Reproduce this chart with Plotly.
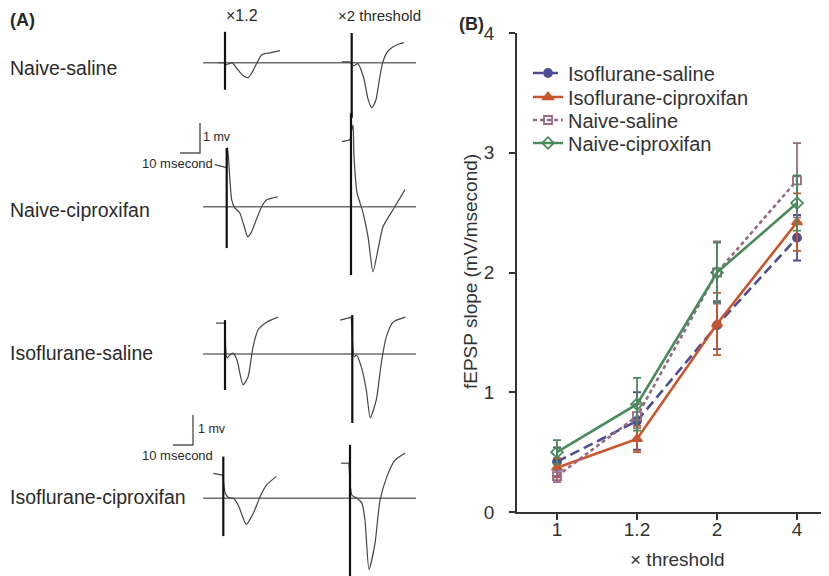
import plotly.graph_objects as go

# ---------------- Panel B data ----------------
thresholds = ["1", "1.2", "2", "4"]
iso_saline = [0.42, 0.76, 1.56, 2.29]
iso_saline_err = [0.12, 0.24, 0.20, 0.19]
iso_cipro = [0.37, 0.61, 1.57, 2.42]
iso_cipro_err = [0.08, 0.11, 0.26, 0.24]
naive_saline = [0.30, 0.80, 2.00, 2.77]
naive_saline_err = [0.05, 0.10, 0.26, 0.31]
naive_cipro = [0.50, 0.90, 2.00, 2.58]
naive_cipro_err = [0.10, 0.22, 0.25, 0.23]

# ---------------- Panel A data (ms from stimulus, mV from baseline) ----------------
# first two points of each trace = pre-stimulus stub
row_labels = ["Naive-saline", "Naive-ciproxifan", "Isoflurane-saline", "Isoflurane-ciproxifan"]
col_labels = ["×1.2", "×2 threshold"]

ns_x12_ms = [-3.5, 0, 0.5, 2, 3.5, 6, 9, 11.5, 13.5, 16, 18.5, 22.5, 27.5]
ns_x12_mv = [0, 0, -0.07, -0.03, 0, -0.2, -0.43, -0.5, -0.33, 0, 0.27, 0.33, 0.4]
ns_x2_ms = [-5, -1, 1, 3, 6, 8, 10, 12, 14, 15.5, 17.5, 20, 24, 26]
ns_x2_mv = [0.03, 0.03, -0.1, -0.03, -0.5, -1.17, -1.5, -1.27, -0.5, 0, 0.33, 0.5, 0.63, 0.67]

nc_x12_ms = [-6, 0, 0.5, 1.5, 2.5, 4, 6.5, 8.5, 10.5, 12.5, 14, 17.5, 20, 25.5]
nc_x12_mv = [1.4, 1.3, 1.97, 1.0, 0.23, -0.03, -0.2, -0.6, -1.0, -0.83, -0.57, 0, 0.23, 0.33]
nc_x2_ms = [-4.5, -0.5, 1, 1.5, 3, 4.5, 6, 8.5, 11, 13.5, 16, 21, 27]
nc_x2_mv = [2.17, 2.23, 2.73, 1.67, 0.47, 0.13, -0.2, -1.0, -2.17, -1.43, -0.67, -0.1, 0.57]

is_x12_ms = [-4.5, 0, 1, 2.5, 4, 6, 9, 11.5, 14, 16.5, 21, 26.5]
is_x12_mv = [1.03, 1.03, -0.13, -0.03, 0.03, -0.2, -1.03, -0.77, 0.23, 0.8, 1.07, 1.23]
is_x2_ms = [-6, -0.5, 1, 2, 4.5, 7, 9, 12, 14.5, 17, 20.5, 26.5]
is_x2_mv = [1.13, 1.23, -0.1, -0.03, -0.43, -1.2, -2.13, -1.53, -0.3, 0.57, 1.07, 1.23]

ic_x12_ms = [-5, -0.25, 1, 2.5, 5, 7.5, 11.5, 15, 18.5, 21.5, 26.5]
ic_x12_mv = [0.83, 0.77, 0.17, 0.03, 0, -0.23, -0.87, -0.5, 0.07, 0.43, 0.73]
ic_x2_ms = [-4.5, -0.5, 1, 3.5, 6, 7.5, 9.5, 12.5, 15, 18.5, 22.5, 27.5]
ic_x2_mv = [1.17, 1.17, 0.1, 0, -0.17, -0.73, -2.37, -1.5, -0.07, 0.73, 1.27, 1.5]

# stimulus artifact extent (top mV, bottom mV)
stim_ns = [[1.03, -0.9], [0.99, -1.84]]
stim_nc = [[1.96, -1.38], [3.12, -2.28]]
stim_is = [[1.13, -1.2], [1.3, -2.3]]
stim_ic = [[1.39, -1.26], [1.78, -2.59]]

scale_ms = 10
scale_mv = 1

# ---------------- layout / placement (screen pixels) ----------------
SW, SH = 829, 576          # browser window
OFF = 8                    # page body margin
W, H = SW - OFF, SH - OFF  # figure size so it fits the window exactly
MS_PER_PX = 0.5
MV_PER_PX = 1 / 30.0
BASE_Y_PX = [62.7, 206.7, 354, 498.3]
STIM_X_PX = [[225, 351.7], [226.7, 351], [225, 352.3], [223.3, 350]]
BASELINE_X_PX = [203, 416]
SCALEBAR_CORNER_PX = [[200, 153], [193, 445]]

FONT = "Liberation Sans, Arial, Helvetica, sans-serif"
TXT = "#2a2a2a"
AX = "#333333"

def fx(p):   # screen x px -> paper fraction
    return (p - OFF) / W

def fy(p):   # screen y px -> paper fraction
    return (SH - p) / H

def px_x(p):
    return p * MS_PER_PX

def px_y(p):
    return -p * MV_PER_PX

fig = go.Figure()

waves = [[(ns_x12_ms, ns_x12_mv), (ns_x2_ms, ns_x2_mv)],
         [(nc_x12_ms, nc_x12_mv), (nc_x2_ms, nc_x2_mv)],
         [(is_x12_ms, is_x12_mv), (is_x2_ms, is_x2_mv)],
         [(ic_x12_ms, ic_x12_mv), (ic_x2_ms, ic_x2_mv)]]
stims = [stim_ns, stim_nc, stim_is, stim_ic]

common = dict(xaxis="x2", yaxis="y2", showlegend=False, hoverinfo="skip")
for r in range(4):
    y0 = px_y(BASE_Y_PX[r])
    fig.add_trace(go.Scatter(x=[px_x(BASELINE_X_PX[0]), px_x(BASELINE_X_PX[1])], y=[y0, y0],
                             mode="lines", line=dict(color="#6f6f6f", width=1.6), **common))
    for c in range(2):
        x0 = px_x(STIM_X_PX[r][c])
        t, v = waves[r][c]
        xs = [x0 + a for a in t]
        ys = [y0 + b for b in v]
        fig.add_trace(go.Scatter(x=xs[:2], y=ys[:2], mode="lines",
                                 line=dict(color="#444", width=1.2), **common))
        fig.add_trace(go.Scatter(x=xs[1:], y=ys[1:], mode="lines",
                                 line=dict(color="#444", width=1.2, shape="spline", smoothing=0.6),
                                 **common))
        top, bot = stims[r][c]
        fig.add_trace(go.Scatter(x=[x0, x0], y=[y0 + top, y0 + bot], mode="lines",
                                 line=dict(color="#111", width=2.2), **common))

for cx, cy in SCALEBAR_CORNER_PX:
    X, Y = px_x(cx), px_y(cy)
    fig.add_trace(go.Scatter(x=[X - scale_ms, X, X], y=[Y, Y, Y + scale_mv], mode="lines",
                             line=dict(color="#555", width=1.4), **common))

# ---------------- Panel B ----------------
series = [
    ("Isoflurane-saline", iso_saline, iso_saline_err, "#4e4d93", "10px,5px", "circle", 8),
    ("Isoflurane-ciproxifan", iso_cipro, iso_cipro_err, "#c9552d", "solid", "triangle-up", 9),
    ("Naive-saline", naive_saline, naive_saline_err, "#986884", "4px,3px", "square-open", 8),
    ("Naive-ciproxifan", naive_cipro, naive_cipro_err, "#4b8a5b", "solid", "diamond-open", 9),
]
LEGEND_ROW_Y = [73, 97, 120, 143]
legend_ids = ["legend", "legend2", "legend3", "legend4"]
legend_layout = {}
for i, (name, vals, err, col, dash, sym, ms) in enumerate(series):
    fig.add_trace(go.Scatter(
        x=thresholds, y=vals, name=name, mode="lines+markers",
        line=dict(color=col, width=2.6, dash=dash),
        marker=dict(symbol=sym, size=ms, color=col, line=dict(color=col, width=1.8)),
        error_y=dict(type="data", array=err, visible=True, color=col, thickness=1.8, width=4),
        xaxis="x", yaxis="y", legend=legend_ids[i]))
    legend_layout[legend_ids[i]] = dict(
        x=fx(528), y=fy(LEGEND_ROW_Y[i]), xanchor="left", yanchor="middle",
        font=dict(size=20, color=AX, family=FONT), bgcolor="rgba(0,0,0,0)", itemwidth=30)

fig.update_layout(
    width=W, height=H,
    margin=dict(l=0, r=0, t=0, b=0, autoexpand=False),
    paper_bgcolor="white", plot_bgcolor="rgba(0,0,0,0)",
    font=dict(family=FONT, color=TXT),
    xaxis=dict(domain=[fx(517), 1.0], type="category", range=[-0.5, 3.4],
               showline=True, linecolor=AX, linewidth=1.5,
               ticks="outside", ticklen=6, tickcolor=AX, tickwidth=1.5,
               tickfont=dict(size=19, color=AX), ticklabelstandoff=-7,
               showgrid=False, zeroline=False, anchor="y", automargin=False),
    yaxis=dict(domain=[fy(512), fy(33)], range=[0, 4],
               tickvals=[0, 1, 2, 3, 4],
               showline=True, linecolor=AX, linewidth=1.5,
               ticks="outside", ticklen=6, tickcolor=AX, tickwidth=1.5,
               tickfont=dict(size=19, color=AX), ticklabelstandoff=11,
               showgrid=False, zeroline=False, anchor="x", automargin=False),
    xaxis2=dict(domain=[0, 1], range=[px_x(OFF), px_x(SW)], visible=False, anchor="y2",
                automargin=False),
    yaxis2=dict(domain=[0, 1], range=[px_y(SH), px_y(OFF)], visible=False, anchor="x2",
                automargin=False),
    showlegend=True,
    **legend_layout,
)

ann = []
def add_text(text, x, y, size, xanchor="left", bold=False, color=TXT, textangle=0):
    ann.append(dict(text=("<b>%s</b>" % text) if bold else text, x=fx(x), y=fy(y),
                    xref="paper", yref="paper", xanchor=xanchor, yanchor="middle",
                    showarrow=False, font=dict(size=size, color=color, family=FONT),
                    textangle=textangle))

add_text("(A)", 8, 20, 18, bold=True)
add_text("(B)", 457, 24, 18, bold=True)
for lbl, y in zip(row_labels, [68, 210, 353, 497]):
    add_text(lbl, 8, y, 19.5)
add_text(col_labels[0], 224, 15, 16)
add_text(col_labels[1], 336, 15, 15)
add_text("1 mv", 201, 137, 12.5)
add_text("10 msecond", 140, 163, 13)
add_text("1 mv", 196, 429, 12.5)
add_text("10 msecond", 140, 455, 13)
add_text("fEPSP slope (mV/msecond)", 470, 272, 19, xanchor="center", color=AX, textangle=-90)
add_text("× threshold", 677, 559, 19, xanchor="center", color=AX)
fig.update_layout(annotations=ann)

fig.write_html("out.html")
